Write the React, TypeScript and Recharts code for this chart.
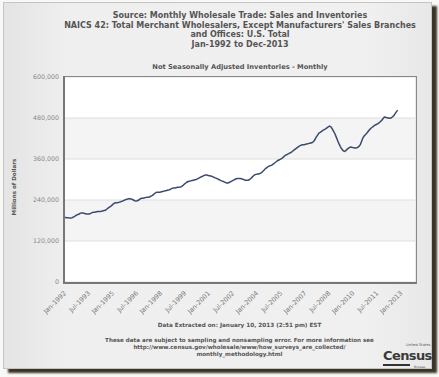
import React from "react";
import { LineChart, Line, XAxis, YAxis, CartesianGrid } from "recharts";

// Month categories Jan-1992 .. Dec-2013 (axis runs to end of 2013)
const monthNames = ["Jan", "Feb", "Mar", "Apr", "May", "Jun", "Jul", "Aug", "Sep", "Oct", "Nov", "Dec"];
const years = Array.from({ length: 22 }, (_, i) => 1992 + i);
const months: string[] = years.flatMap((y) => monthNames.map((m) => `${m}-${y}`));

// Inventories, millions of dollars (Jan-1992 .. Nov-2012)
const inventories: number[] = [
  190000, 189000, 188000, 188000, 187000, 187000, 188000, 190000, 192000, 195000, 197000, 198000,
  201000, 202000, 202000, 201000, 200000, 199000, 199000, 199000, 201000, 203000, 204000, 204000,
  205000, 206000, 206000, 206000, 207000, 208000, 209000, 210000, 213000, 216000, 219000, 221000,
  225000, 229000, 231000, 232000, 232000, 233000, 234000, 236000, 237000, 239000, 241000, 242000,
  243000, 244000, 243000, 242000, 240000, 238000, 237000, 238000, 240000, 243000, 245000, 245000,
  246000, 247000, 248000, 248000, 249000, 251000, 253000, 256000, 259000, 262000, 263000, 263000,
  263000, 264000, 265000, 266000, 267000, 268000, 269000, 270000, 272000, 274000, 275000, 275000,
  276000, 277000, 277000, 278000, 279000, 282000, 286000, 289000, 292000, 294000, 295000, 296000,
  297000, 298000, 299000, 300000, 302000, 304000, 306000, 308000, 310000, 312000, 313000, 313000,
  312000, 311000, 310000, 309000, 307000, 305000, 304000, 302000, 300000, 298000, 296000, 295000,
  293000, 291000, 290000, 290000, 292000, 294000, 296000, 298000, 300000, 302000, 303000, 303000,
  303000, 302000, 301000, 299000, 298000, 298000, 298000, 300000, 303000, 307000, 311000, 314000,
  315000, 316000, 316000, 318000, 320000, 324000, 328000, 332000, 335000, 338000, 340000, 341000,
  343000, 346000, 349000, 352000, 355000, 357000, 359000, 361000, 364000, 368000, 371000, 373000,
  375000, 377000, 379000, 382000, 385000, 388000, 391000, 394000, 397000, 399000, 401000, 402000,
  402000, 403000, 404000, 405000, 406000, 407000, 408000, 411000, 417000, 424000, 430000, 436000,
  438000, 441000, 444000, 446000, 448000, 451000, 454000, 456000, 454000, 448000, 441000, 434000,
  424000, 414000, 405000, 397000, 390000, 385000, 382000, 384000, 388000, 391000, 394000, 395000,
  394000, 393000, 392000, 392000, 394000, 397000, 402000, 412000, 422000, 428000, 432000, 436000,
  441000, 446000, 450000, 453000, 456000, 459000, 461000, 463000, 466000, 469000, 473000, 478000,
  483000, 482000, 481000, 480000, 479000, 480000, 483000, 486000, 492000, 498000, 503000,
];

const xTicks = [
  "Jan-1992", "Jul-1993", "Jan-1995", "Jul-1996", "Jan-1998", "Jul-1999", "Jan-2001", "Jul-2002",
  "Jan-2004", "Jul-2005", "Jan-2007", "Jul-2008", "Jan-2010", "Jul-2011", "Jan-2013",
];
const yTicks = [0, 120000, 240000, 360000, 480000, 600000];

const titleLines = [
  "Source: Monthly Wholesale Trade: Sales and Inventories",
  "NAICS 42: Total Merchant Wholesalers, Except Manufacturers' Sales Branches",
  "and Offices: U.S. Total",
  "Jan-1992 to Dec-2013",
];
const footerLines = [
  "These data are subject to sampling and nonsampling error. For more information see",
  "http://www.census.gov/wholesale/www/how_surveys_are_collected/",
  "monthly_methodology.html",
];

const data = months.map((m, i) => ({ month: m, value: i < inventories.length ? inventories[i] : null }));

const FONT = "'DejaVu Sans', Verdana, sans-serif";

function XTick(props: any) {
  const { x, y, payload } = props;
  return (
    <text
      x={x + 1}
      y={y + 2}
      transform={`rotate(-45 ${x + 1} ${y + 2})`}
      textAnchor="end"
      dy="0.35em"
      fontSize={6.5}
      fill="#777"
      fontFamily={FONT}
    >
      {payload.value}
    </text>
  );
}

export default function App() {
  return (
    <div style={{ position: "absolute", left: 0, top: 0, width: 439, height: 377, background: "#f8f8f6", overflow: "hidden" }}>
      <div
        style={{
          position: "absolute",
          left: 3,
          top: 2,
          width: 427,
          height: 365,
          border: "1px solid #c4c4c4",
          background: "linear-gradient(to right, #e4e4e4, #efefef 15%, #f0f0f0 85%, #e8e8e8)",
          boxShadow: "5px 4px 2px #3b3426",
        }}
      />
      <div
        style={{
          position: "absolute", left: 0, top: 11, width: 480, textAlign: "center",
          fontFamily: FONT, fontWeight: "bold", fontSize: 8, lineHeight: "9.5px", color: "#555",
        }}
      >
        {titleLines.map((t) => (
          <div key={t}>{t}</div>
        ))}
      </div>
      <div
        style={{
          position: "absolute", left: 0, top: 62, width: 480, textAlign: "center",
          fontFamily: FONT, fontWeight: "bold", fontSize: 6.7, lineHeight: "10px", color: "#555",
        }}
      >
        Not Seasonally Adjusted Inventories - Monthly
      </div>
      <div style={{ position: "absolute", left: 0, top: 0 }}>
        <LineChart width={439} height={377} data={data} margin={{ top: 77, right: 24, bottom: 55, left: 0 }}>
          <CartesianGrid vertical={false} stroke="#dedede" horizontalFill={["#ffffff", "#f4f4f4"]} fillOpacity={1} />
          <XAxis
            dataKey="month"
            ticks={xTicks}
            interval={0}
            tick={<XTick />}
            tickLine={false}
            axisLine={false}
            height={40}
          />
          <YAxis
            domain={[0, 600000]}
            ticks={yTicks}
            width={64}
            tickLine={false}
            axisLine={false}
            tickSize={3}
            tickFormatter={(v: number) => v.toLocaleString("en-US")}
            tick={{ fontSize: 6.3, fill: "#888", fontFamily: FONT }}
          />
          <Line
            type="linear"
            dataKey="value"
            stroke="#3b4b6e"
            strokeWidth={1.5}
            dot={false}
            isAnimationActive={false}
          />
        </LineChart>
      </div>
      <div
        style={{
          position: "absolute", left: 63, top: 76, width: 351, height: 205,
          borderLeft: "2px solid #777", borderBottom: "2px solid #777",
          borderTop: "1.5px solid #888", borderRight: "1.5px solid #888", pointerEvents: "none",
        }}
      />
      <div
        style={{
          position: "absolute", left: 14, top: 187, transform: "translate(-50%, -50%) rotate(-90deg)",
          whiteSpace: "nowrap", fontFamily: FONT, fontWeight: "bold", fontSize: 5.6, color: "#555",
        }}
      >
        Millions of Dollars
      </div>
      <div
        style={{
          position: "absolute", left: 0, top: 320, width: 479, textAlign: "center",
          fontFamily: FONT, fontWeight: "bold", fontSize: 5.7, lineHeight: "10px", color: "#555",
        }}
      >
        Data Extracted on: January 10, 2013 (2:51 pm) EST
      </div>
      <div
        style={{
          position: "absolute", left: 0, top: 337, width: 479, textAlign: "center",
          fontFamily: FONT, fontWeight: "bold", fontSize: 5.6, lineHeight: "7.2px", color: "#555",
        }}
      >
        {footerLines.map((t) => (
          <div key={t}>{t}</div>
        ))}
      </div>
      <div style={{ position: "absolute", left: 406, top: 343, fontFamily: FONT, fontSize: 3.6, lineHeight: "4px", color: "#555", whiteSpace: "nowrap" }}>
        United States
      </div>
      <div
        style={{
          position: "absolute", left: 383, top: 348, fontFamily: FONT, fontWeight: "bold", fontSize: 13,
          lineHeight: "15px", color: "#3a3a3a", letterSpacing: -0.6, whiteSpace: "nowrap",
        }}
      >
        Census
      </div>
      <div style={{ position: "absolute", left: 383, top: 364, width: 27, height: 1.5, background: "#333" }} />
      <div style={{ position: "absolute", left: 414, top: 365, fontFamily: FONT, fontSize: 3.2, lineHeight: "4px", color: "#555" }}>
        Bureau
      </div>
    </div>
  );
}
